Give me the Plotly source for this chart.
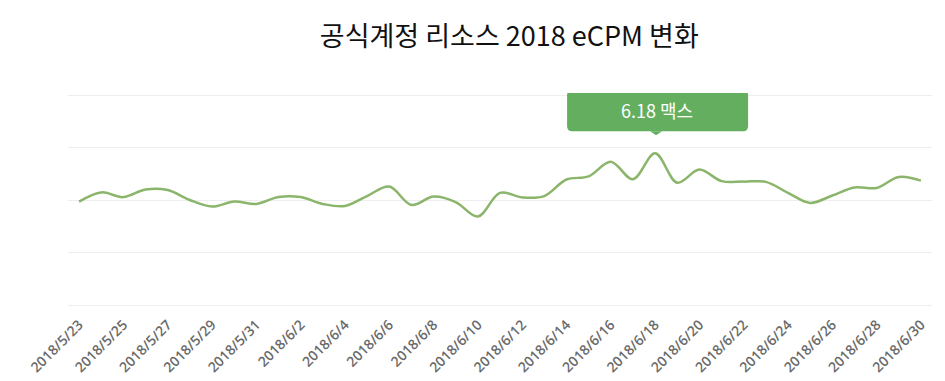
import plotly.graph_objects as go

dates = ["2018/5/23", "2018/5/24", "2018/5/25", "2018/5/26", "2018/5/27", "2018/5/28",
         "2018/5/29", "2018/5/30", "2018/5/31", "2018/6/1", "2018/6/2", "2018/6/3",
         "2018/6/4", "2018/6/5", "2018/6/6", "2018/6/7", "2018/6/8", "2018/6/9",
         "2018/6/10", "2018/6/11", "2018/6/12", "2018/6/13", "2018/6/14", "2018/6/15",
         "2018/6/16", "2018/6/17", "2018/6/18", "2018/6/19", "2018/6/20", "2018/6/21",
         "2018/6/22", "2018/6/23", "2018/6/24", "2018/6/25", "2018/6/26", "2018/6/27",
         "2018/6/28", "2018/6/29", "2018/6/30"]
ecpm = [4.34, 4.69, 4.51, 4.80, 4.78, 4.40, 4.15, 4.34, 4.25, 4.51, 4.51, 4.25,
        4.17, 4.55, 4.91, 4.21, 4.53, 4.32, 3.77, 4.67, 4.50, 4.55, 5.18, 5.30,
        5.86, 5.19, 6.18, 5.06, 5.56, 5.12, 5.10, 5.09, 4.67, 4.29, 4.57, 4.88,
        4.86, 5.28, 5.14]
tick_labels = dates[::2]
grid_values = [0.4, 2.4, 4.4, 6.4, 8.4]
title_text = "공식계정 리소스 2018 eCPM 변화"
max_label = "맥스"

imax = max(range(len(ecpm)), key=lambda i: ecpm[i])

fig = go.Figure()
fig.add_trace(go.Scatter(
    x=dates, y=ecpm, mode="lines",
    line=dict(color="#8bb56b", width=2.5, shape="spline", smoothing=1.0),
    hoverinfo="x+y", showlegend=False,
))

# tooltip box anchored at the max point (pixel-sized relative to anchor)
r = 5
x0, x1, y0, y1 = -88, 93, 22, 63
box = (f"M {x0+r},{y0} L {x1-r},{y0} Q {x1},{y0} {x1},{y0+r} L {x1},{y1-r} Q {x1},{y1} {x1-r},{y1} "
       f"L {x0+r},{y1} Q {x0},{y1} {x0},{y1-r} L {x0},{y0+r} Q {x0},{y0} {x0+r},{y0} Z")
tri = "M -5,22 L 1,18 L 7,22 Z"
for p in (box, tri):
    fig.add_shape(type="path", path=p, xsizemode="pixel", ysizemode="pixel",
                  xanchor=dates[imax], yanchor=ecpm[imax], xref="x", yref="y",
                  fillcolor="#64ae5f", line=dict(width=0), layer="above")

fig.add_annotation(x=dates[imax], y=ecpm[imax], xref="x", yref="y",
                   text=f"{ecpm[imax]:.2f} {max_label}", showarrow=False,
                   yshift=43, xshift=2,
                   font=dict(family="Noto Sans CJK KR", size=18, color="white"))

# page has an 8px body margin; figure is sized to fit inside it
W, H = 937, 373
pad = 2 * (2 / 52.5)
fig.update_layout(
    width=W, height=H,
    margin=dict(l=60, r=13, t=85, b=74, autoexpand=False),
    paper_bgcolor="white", plot_bgcolor="white",
    title=dict(text=title_text, x=0.535, xanchor="center", y=1 - 29 / H,
               yanchor="middle", yref="container",
               font=dict(family="Noto Sans CJK KR", size=27, color="#111111")),
    xaxis=dict(type="category", range=[-0.5, len(dates) - 0.5], automargin=False,
               tickmode="array", tickvals=tick_labels, ticktext=tick_labels,
               tickangle=-45, showgrid=False, showline=False, ticks="",
               ticklabelstandoff=6,
               tickfont=dict(family="Open Sans", size=14, color="#6a6a6a", weight=600)),
    yaxis=dict(range=[grid_values[0] - pad, grid_values[-1] + pad], tickmode="array",
               automargin=False,
               tickvals=grid_values, showticklabels=False, showgrid=True,
               gridcolor="#eeeeee", gridwidth=1, zeroline=False, showline=False),
)

fig.write_html("out.html")
